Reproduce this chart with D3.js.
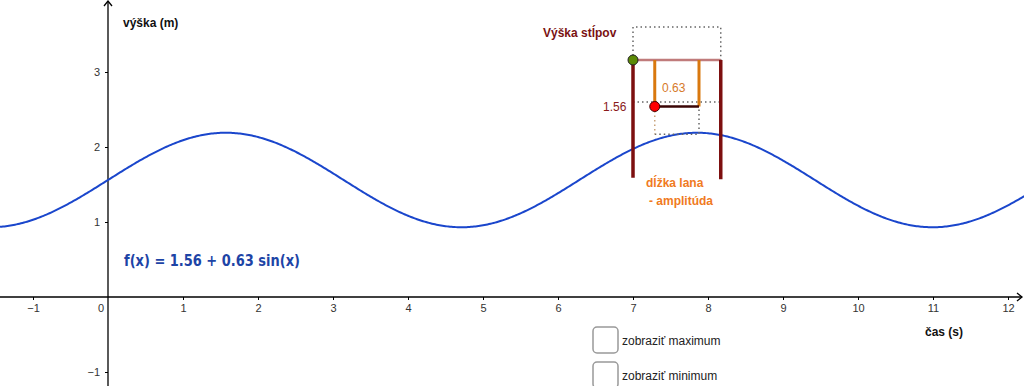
<!DOCTYPE html>
<html>
<head>
<meta charset="utf-8">
<script src="https://cdn.jsdelivr.net/npm/d3@7"></script>
<style>
  body { margin: 0; background: #fff; }
  svg { display: block; font-family: "Liberation Sans", Arial, sans-serif; }
</style>
</head>
<body>
<svg id="chart"></svg>
<script>
// function shown in the chart: f(x) = a + b sin(x)
const coefA = [1.56];
const coefB = [0.63];
const xTicks = [-1, 1, 2, 3, 4, 5, 6, 7, 8, 9, 10, 11, 12];
const yTicks = [-1, 1, 2, 3];

// construction (poles, rope, bob) in graph units
const poleX = [7, 8.17];
const poleTop = [3.16, 3.16];
const poleBottom = [1.59, 1.57];
const ropeX = [7.29, 7.88];
const ropeEnd = [2.54, 2.54];
const guideTop = [3.6];
const guideMid = [2.6];
const guideLow = [2.17];

const width = 1024, height = 386;

const x = d3.scaleLinear().domain([-108 / 75, (width - 108) / 75]).range([0, width]);
const y = d3.scaleLinear().domain([(297 - height) / 75, 297 / 75]).range([height, 0]);

const svg = d3.select("#chart")
    .attr("width", width)
    .attr("height", height)
    .attr("viewBox", [0, 0, width, height]);

const fmt = d3.format("d");

// axes
const xAxis = g => g
    .attr("transform", `translate(0,${y(0)})`)
    .call(d3.axisBottom(x).tickValues(xTicks).tickFormat(fmt).tickSize(3).tickSizeOuter(0).tickPadding(4))
    .call(g => g.select(".domain").remove())
    .call(g => g.selectAll("line").attr("stroke", "#000"))
    .call(g => g.selectAll("text").attr("fill", "#333").attr("font-size", 11)
        .attr("font-family", "Liberation Sans, Arial, sans-serif"));

const yAxis = g => g
    .attr("transform", `translate(${x(0)},0)`)
    .call(d3.axisLeft(y).tickValues(yTicks).tickFormat(fmt).tickSize(3).tickSizeOuter(0).tickPadding(5))
    .call(g => g.select(".domain").remove())
    .call(g => g.selectAll("line").attr("stroke", "#000"))
    .call(g => g.selectAll("text").attr("fill", "#333").attr("font-size", 11)
        .attr("font-family", "Liberation Sans, Arial, sans-serif"));

svg.append("g").call(xAxis);
svg.append("g").call(yAxis);

const axisLines = svg.append("g").attr("stroke", "#000").attr("fill", "none").attr("stroke-width", 1.3);
axisLines.append("line").attr("x1", 0).attr("x2", width - 2).attr("y1", y(0)).attr("y2", y(0));
axisLines.append("line").attr("x1", x(0)).attr("x2", x(0)).attr("y1", height).attr("y2", 1);
axisLines.append("path").attr("d", `M${x(0) - 4},${6}L${x(0)},${1}L${x(0) + 4},${6}`);
axisLines.append("path").attr("d", `M${width - 7},${y(0) - 4}L${width - 2},${y(0)}L${width - 7},${y(0) + 4}`);

svg.append("text").attr("x", x(0) - 10).attr("y", y(0) + 15)
    .attr("font-size", 11).attr("fill", "#333").text("0");

svg.append("text").attr("x", 123).attr("y", 27)
    .attr("font-size", 12).attr("font-weight", "bold").attr("fill", "#111").text("výška (m)");
svg.append("text").attr("x", 925).attr("y", 336)
    .attr("font-size", 12).attr("font-weight", "bold").attr("fill", "#111").text("čas (s)");

// curve
const f = t => coefA[0] + coefB[0] * Math.sin(t);
const samples = d3.range(x.domain()[0], x.domain()[1] + 0.01, 0.02);
const line = d3.line().x(d => x(d)).y(d => y(f(d)));

svg.append("path")
    .datum(samples)
    .attr("fill", "none")
    .attr("stroke", "#1a46cc")
    .attr("stroke-width", 2)
    .attr("d", line);

svg.append("text").attr("x", 124).attr("y", 266)
    .attr("font-family", "DejaVu Sans, sans-serif")
    .attr("font-size", 15).attr("font-weight", "bold").attr("fill", "#1d44a6")
    .attr("textLength", 176).attr("lengthAdjust", "spacingAndGlyphs")
    .text(`f(x) = ${coefA[0]} + ${coefB[0]} sin(x)`);

// construction: dotted guides
const dotted = svg.append("g").attr("fill", "none").attr("stroke", "#666")
    .attr("stroke-width", 1.5).attr("stroke-dasharray", "1.5,3");
dotted.append("path").attr("d",
    `M${x(poleX[0])},${y(poleTop[0])}V${y(guideTop[0])}H${x(poleX[1])}V${y(poleTop[1])}`);
dotted.append("line").attr("x1", x(poleX[0])).attr("x2", x(poleX[1]))
    .attr("y1", y(guideMid[0])).attr("y2", y(guideMid[0]));
dotted.append("path").attr("d",
    `M${x(ropeX[0])},${y(guideLow[0])}H${x(ropeX[1])}V${y(ropeEnd[1])}`);
dotted.append("line").attr("stroke", "#c8a27a")
    .attr("x1", x(ropeX[0])).attr("x2", x(ropeX[0]))
    .attr("y1", y(ropeEnd[0])).attr("y2", y(guideLow[0]));

// top bar
svg.append("line").attr("x1", x(poleX[0])).attr("x2", x(poleX[1]))
    .attr("y1", y(poleTop[0])).attr("y2", y(poleTop[1]))
    .attr("stroke", "#c07b7b").attr("stroke-width", 2.5);

// poles
svg.append("g").selectAll("line")
    .data(poleX)
    .join("line")
    .attr("x1", d => x(d)).attr("x2", d => x(d))
    .attr("y1", (d, i) => y(poleTop[i])).attr("y2", (d, i) => y(poleBottom[i]))
    .attr("stroke", "#7d0f0f").attr("stroke-width", 3.5);

// ropes
svg.append("g").selectAll("line")
    .data(ropeX)
    .join("line")
    .attr("x1", d => x(d)).attr("x2", d => x(d))
    .attr("y1", y(poleTop[0])).attr("y2", (d, i) => y(ropeEnd[i]))
    .attr("stroke", "#d9780f").attr("stroke-width", 3);

svg.append("line").attr("x1", x(ropeX[0])).attr("x2", x(ropeX[1]))
    .attr("y1", y(ropeEnd[0])).attr("y2", y(ropeEnd[1]))
    .attr("stroke", "#3a0505").attr("stroke-width", 2.5);

// points
svg.append("circle").attr("cx", x(poleX[0])).attr("cy", y(poleTop[0])).attr("r", 5)
    .attr("fill", "#5c8a06").attr("stroke", "#222").attr("stroke-width", 1);
svg.append("circle").attr("cx", x(ropeX[0])).attr("cy", y(ropeEnd[0])).attr("r", 5)
    .attr("fill", "#ff0000").attr("stroke", "#400").attr("stroke-width", 1);

// labels
svg.append("text").attr("x", 543).attr("y", 37)
    .attr("font-size", 12).attr("font-weight", "bold").attr("fill", "#7a1212").text("Výška stĺpov");
svg.append("text").attr("x", 603).attr("y", 111)
    .attr("font-size", 12).attr("fill", "#8a1a1a").text(coefA[0]);
svg.append("text").attr("x", 662).attr("y", 92)
    .attr("font-size", 12).attr("fill", "#d67a2a").text(coefB[0]);
svg.append("text").attr("x", 646).attr("y", 187)
    .attr("font-size", 12).attr("font-weight", "bold").attr("fill", "#f07a22").text("dĺžka lana");
svg.append("text").attr("x", 649).attr("y", 205)
    .attr("font-size", 12).attr("font-weight", "bold").attr("fill", "#f07a22").text("- amplitúda");

// checkboxes
const boxes = ["zobraziť maximum", "zobraziť minimum"];
const cb = svg.append("g").selectAll("g")
    .data(boxes)
    .join("g")
    .attr("transform", (d, i) => `translate(593,${327 + i * 35})`);
cb.append("rect").attr("width", 25).attr("height", 26).attr("rx", 4)
    .attr("fill", "#fff").attr("stroke", "#999").attr("stroke-width", 1.5);
cb.append("text").attr("x", 29).attr("y", 18)
    .attr("font-size", 12).attr("fill", "#222").text(d => d);
</script>
</body>
</html>
